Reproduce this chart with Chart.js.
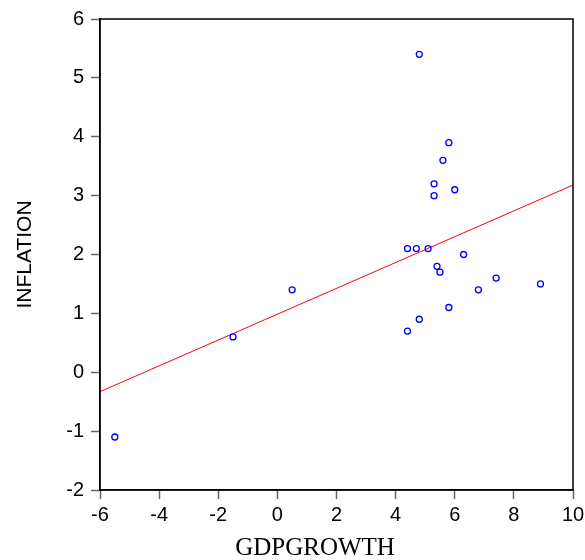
<!DOCTYPE html>
<html>
<head>
<meta charset="utf-8">
<script src="https://cdn.jsdelivr.net/npm/chart.js@4.4.1/dist/chart.umd.min.js"></script>
<style>
  html, body { margin: 0; padding: 0; background: #fff; }
  #wrap { width: 585px; height: 560px; }
</style>
</head>
<body>
<div id="wrap"><canvas id="chart"></canvas></div>
<script>
// GDP growth (x) vs inflation (y)
const gdpGrowth = [4.8, 5.8, 5.6, 5.3, 5.3, 6.0, 4.4, 4.7, 5.1, 6.3, 5.4, 5.5, 7.4, 8.9, 6.8, 5.8, 4.8, 4.4, -5.5, -1.5, 0.5];
const inflation = [5.4, 3.9, 3.6, 3.2, 3.0, 3.1, 2.1, 2.1, 2.1, 2.0, 1.8, 1.7, 1.6, 1.5, 1.4, 1.1, 0.9, 0.7, -1.1, 0.6, 1.4];
// fitted regression line end points
const fitX = [-6, 10];
const fitY = [-0.33, 3.18];
const xTicks = [-6, -4, -2, 0, 2, 4, 6, 8, 10];
const yTicks = [-2, -1, 0, 1, 2, 3, 4, 5, 6];

const points = gdpGrowth.map((g, i) => ({ x: g, y: inflation[i] }));
const fitLine = fitX.map((x, i) => ({ x: x, y: fitY[i] }));

// box around plot + x title placed a bit left of centre like the original
const framePlugin = {
  id: 'frame',
  afterDraw(chart) {
    const { ctx, chartArea } = chart;
    ctx.save();
    ctx.strokeStyle = '#000';
    ctx.lineWidth = 1.5;
    ctx.strokeRect(chartArea.left, chartArea.top, chartArea.right - chartArea.left, chartArea.bottom - chartArea.top);
    ctx.fillStyle = '#000';
    ctx.font = '25px "Liberation Serif", "Times New Roman", serif';
    ctx.textAlign = 'center';
    ctx.textBaseline = 'middle';
    ctx.fillText('GDPGROWTH', 315, 548);
    ctx.restore();
  }
};

const bg = {
  id: 'bg',
  beforeDraw(chart) {
    const ctx = chart.ctx;
    ctx.save();
    ctx.fillStyle = '#fff';
    ctx.fillRect(0, 0, chart.width, chart.height);
    ctx.restore();
  }
};

new Chart(document.getElementById('chart'), {
  type: 'scatter',
  data: {
    datasets: [{
      label: 'INFLATION',
      data: points,
      pointStyle: 'circle',
      pointRadius: 3,
      pointHoverRadius: 3,
      borderColor: '#0000ff',
      backgroundColor: 'rgba(0,0,0,0)',
      borderWidth: 1.3
    }, {
      type: 'line',
      label: 'fit',
      data: fitLine,
      borderColor: '#ff0000',
      borderWidth: 1,
      pointRadius: 0,
      fill: false
    }]
  },
  options: {
    responsive: true,
    maintainAspectRatio: false,
    animation: false,
    layout: { padding: { top: 18, right: 12, bottom: 0, left: 0 } },
    plugins: {
      legend: { display: false },
      tooltip: { enabled: false }
    },
    scales: {
      x: {
        type: 'linear',
        min: -6,
        max: 10,
        afterBuildTicks: axis => { axis.ticks = xTicks.map(v => ({ value: v })); },
        afterFit: axis => {
          axis.height = 70;
          axis.paddingLeft = 0;
          axis.paddingRight = 0;
        },
        grid: { drawOnChartArea: false, tickLength: 9, tickColor: '#666', tickWidth: 1.5 },
        border: { color: '#000', width: 1.5 },
        ticks: {
          color: '#000',
          padding: 4,
          maxRotation: 0,
          font: { family: '"Liberation Sans", Arial, sans-serif', size: 20 }
        }
      },
      y: {
        type: 'linear',
        min: -2,
        max: 6,
        afterBuildTicks: axis => { axis.ticks = yTicks.map(v => ({ value: v })); },
        afterFit: axis => { axis.width = 100; },
        grid: { drawOnChartArea: false, tickLength: 9, tickColor: '#666', tickWidth: 1.5 },
        border: { color: '#000', width: 1.5 },
        ticks: {
          color: '#000',
          padding: 7,
          font: { family: '"Liberation Sans", Arial, sans-serif', size: 20 }
        },
        title: {
          display: true,
          text: 'INFLATION',
          color: '#000',
          padding: { top: 15, bottom: 0 },
          font: { family: '"Liberation Sans", Arial, sans-serif', size: 21, lineHeight: 1 }
        }
      }
    }
  },
  plugins: [bg, framePlugin]
});
</script>
</body>
</html>
